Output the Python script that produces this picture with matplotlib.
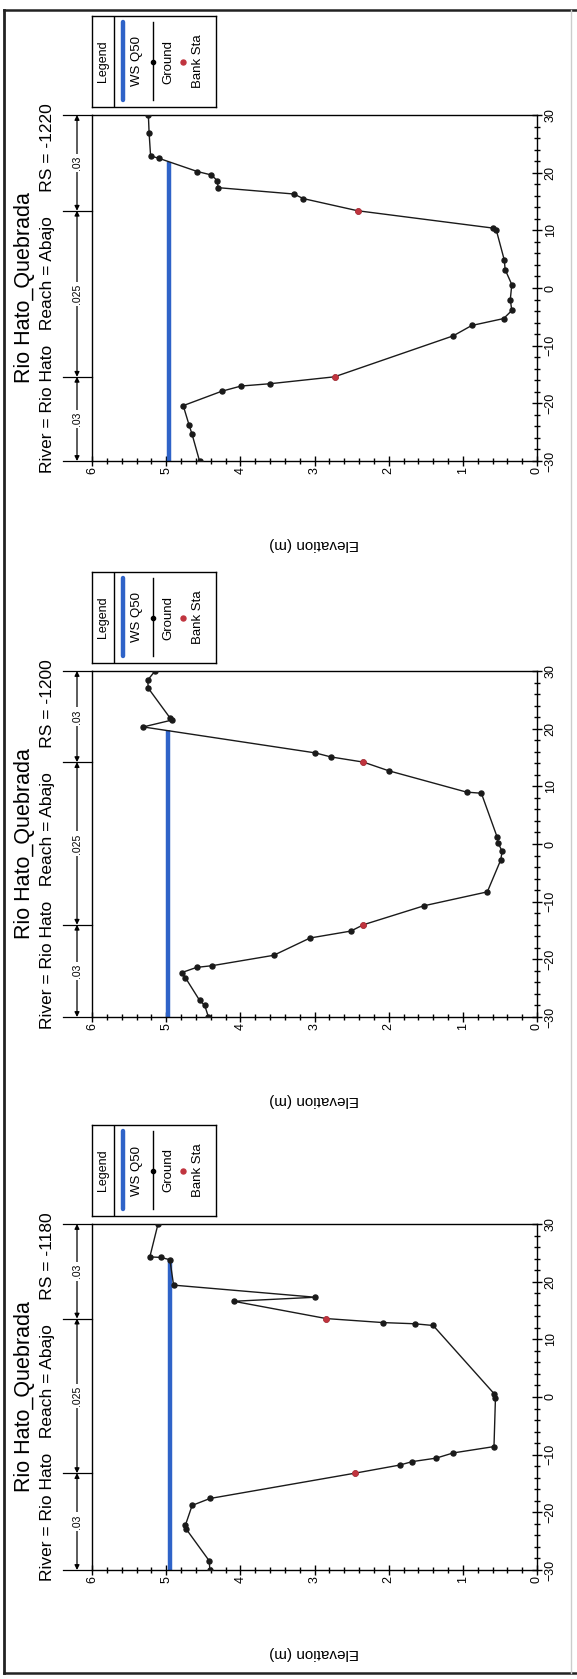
import numpy as np
import matplotlib
matplotlib.use('Agg')
import matplotlib.pyplot as plt
from matplotlib.ticker import MultipleLocator
from matplotlib.transforms import blended_transform_factory
from matplotlib.lines import Line2D

plt.rcParams['font.family'] = ['Liberation Sans', 'DejaVu Sans']

river_title = 'Rio Hato_Quebrada'
river_stations = ['-1220', '-1200', '-1180']

sta_1220 = [-30, -25.4, -23.8, -20.4, -17.9, -17.0, -16.6, -15.4, -8.3, -6.5, -5.3, -3.9, -2.0,
            0.6, 3.2, 4.8, 10.1, 10.4, 13.4, 15.5, 16.3, 17.4, 18.6, 19.6, 20.2, 22.5, 22.9, 26.9, 30]
elev_1220 = [4.55, 4.65, 4.69, 4.77, 4.25, 3.99, 3.60, 2.73, 1.13, 0.88, 0.45, 0.34, 0.36,
             0.34, 0.43, 0.44, 0.55, 0.60, 2.42, 3.15, 3.28, 4.30, 4.31, 4.39, 4.58, 5.10, 5.21, 5.23, 5.24]

sta_1200 = [-30, -28.0, -27.1, -23.2, -22.3, -21.4, -21.1, -19.3, -16.3, -15.1, -14.0, -10.7, -8.3,
            -2.8, -1.3, 0.1, 1.3, 8.8, 9.0, 12.7, 14.2, 15.1, 15.8, 20.3, 21.5, 21.9, 27.0, 28.4, 30]
elev_1200 = [4.43, 4.48, 4.55, 4.74, 4.79, 4.59, 4.38, 3.55, 3.06, 2.51, 2.34, 1.52, 0.67,
             0.49, 0.47, 0.52, 0.54, 0.75, 0.95, 2.00, 2.34, 2.78, 2.99, 5.31, 4.92, 4.95, 5.24, 5.25, 5.15]

sta_1180 = [-30, -28.4, -22.9, -22.2, -18.8, -17.6, -13.2, -11.8, -11.2, -10.6, -9.7, -8.6, -0.1,
            0.6, 12.4, 12.7, 12.9, 13.6, 16.6, 17.3, 19.4, 23.8, 24.2, 24.3, 30]
elev_1180 = [4.41, 4.42, 4.73, 4.74, 4.65, 4.41, 2.45, 1.85, 1.68, 1.36, 1.13, 0.58, 0.56,
             0.58, 1.40, 1.65, 2.07, 2.84, 4.09, 2.99, 4.90, 4.95, 5.07, 5.22, 5.11]

ground_sta = [sta_1220, sta_1200, sta_1180]
ground_elev = [elev_1220, elev_1200, elev_1180]
bank_sta = [[-15.4, 13.4], [-14.0, 14.2], [-13.2, 13.6]]
ws_elev = [4.96, 4.97, 4.95]
ws_left = [-30, -30, -30]
ws_right = [21.8, 19.7, 23.8]
mann_n = ['.03', '.025', '.03']

# ---- layout in pixels of the 577x1679 page ----
W, H = 577, 1679
fig = plt.figure(figsize=(W / 100, H / 100), dpi=100)


def px_axes(x0, y0, x1, y1):
    return fig.add_axes([x0 / W, 1 - y1 / H, (x1 - x0) / W, (y1 - y0) / H])


tops = [115, 671, 1224]
AX_L, AX_R, AX_H = 92, 537, 346
blue = '#2f63c8'
red = '#c0343e'

for i, top in enumerate(tops):
    ax = px_axes(AX_L, top, AX_R, top + AX_H)
    sta = np.array(ground_sta[i])
    elev = np.array(ground_elev[i])

    ax.plot([ws_elev[i], ws_elev[i]], [ws_left[i], ws_right[i]], color=blue, lw=3.2,
            solid_capstyle='butt', zorder=2)
    ax.plot(elev, sta, '-o', color='#1a1a1a', lw=1.0, ms=3.6, zorder=3)
    be = np.interp(bank_sta[i], sta, elev)
    ax.plot(be, bank_sta[i], 'o', color=red, ms=3.8, zorder=4)

    ax.set_xlim(6, 0)
    ax.set_ylim(-30, 30)
    ax.xaxis.set_major_locator(MultipleLocator(1))
    ax.xaxis.set_minor_locator(MultipleLocator(0.2))
    ax.yaxis.set_major_locator(MultipleLocator(10))
    ax.yaxis.set_minor_locator(MultipleLocator(2))
    ax.yaxis.tick_right()
    ax.tick_params(which='major', direction='inout', length=7, width=1, labelsize=9)
    ax.tick_params(which='minor', direction='inout', length=4, width=1)
    ax.tick_params(axis='x', labelrotation=90, pad=1)
    ax.tick_params(axis='y', labelrotation=90, pad=2)
    for lab in ax.get_yticklabels():
        lab.set_va('center')
    for sp in ax.spines.values():
        sp.set_linewidth(1.0)

    # manning's n bar along the top edge (left side of the page)
    tr = blended_transform_factory(ax.transAxes, ax.transData)
    bx = (77 - AX_L) / (AX_R - AX_L)
    bounds = [-30] + list(bank_sta[i]) + [30]
    for b in bounds:
        ax.add_line(Line2D([-0.066, 0], [b, b], transform=tr, color='black', lw=0.9, clip_on=False))
    for k in range(3):
        ax.annotate('', xy=(bx, bounds[k + 1]), xytext=(bx, bounds[k]), xycoords=tr, textcoords=tr,
                    arrowprops=dict(arrowstyle='<|-|>', color='black', lw=0.9, mutation_scale=7,
                                    shrinkA=0, shrinkB=0),
                    annotation_clip=False)
        ax.text(bx, (bounds[k] + bounds[k + 1]) / 2, mann_n[k], transform=tr, rotation=90,
                ha='center', va='center', fontsize=7.5,
                bbox=dict(facecolor='white', edgecolor='none', pad=1.5))

    ax.text(-0.151, 0.5, river_title, transform=ax.transAxes, rotation=90,
            ha='center', va='center', fontsize=15.5)
    ax.text(-0.101, 0.5, 'River = Rio Hato   Reach = Abajo     RS = ' + river_stations[i],
            transform=ax.transAxes, rotation=90, ha='center', va='center', fontsize=12.5)
    ax.text(0.5, -0.24, 'Elevation (m)', transform=ax.transAxes, rotation=180,
            ha='center', va='center', fontsize=11)

    # legend box
    lg = px_axes(92, top - 99, 216, top - 8)
    lg.set_xlim(0, 1)
    lg.set_ylim(0, 1)
    lg.set_xticks([])
    lg.set_yticks([])
    for sp in lg.spines.values():
        sp.set_linewidth(1.0)
    lg.axvline(0.177, color='black', lw=1.0)
    lg.text(0.089, 0.5, 'Legend', rotation=90, ha='center', va='center', fontsize=9)
    lg.plot([0.25, 0.25], [0.077, 0.934], color=blue, lw=3.2, solid_capstyle='round')
    lg.text(0.363, 0.5, 'WS Q50', rotation=90, ha='center', va='center', fontsize=9.5)
    lg.plot([0.49, 0.49], [0.077, 0.934], color='black', lw=1.0)
    lg.plot([0.49], [0.5], 'o', color='black', ms=3)
    lg.text(0.613, 0.5, 'Ground', rotation=90, ha='center', va='center', fontsize=9.5)
    lg.plot([0.734], [0.5], 'o', color=red, ms=3.6)
    lg.text(0.855, 0.5, 'Bank Sta', rotation=90, ha='center', va='center', fontsize=9.5)

# page border of the scan
fig.add_artist(Line2D([4 / W, 4 / W], [1 - 1673 / H, 1 - 10 / H], color='#222222', lw=2))
fig.add_artist(Line2D([4 / W, 1], [1 - 10 / H, 1 - 10 / H], color='#222222', lw=1.8))
fig.add_artist(Line2D([4 / W, 1], [1 - 1673 / H, 1 - 1673 / H], color='#222222', lw=1.8))
fig.add_artist(Line2D([571 / W, 571 / W], [1 - 1673 / H, 1 - 10 / H], color='#cccccc', lw=1))

fig.savefig('out.png', dpi=100)
